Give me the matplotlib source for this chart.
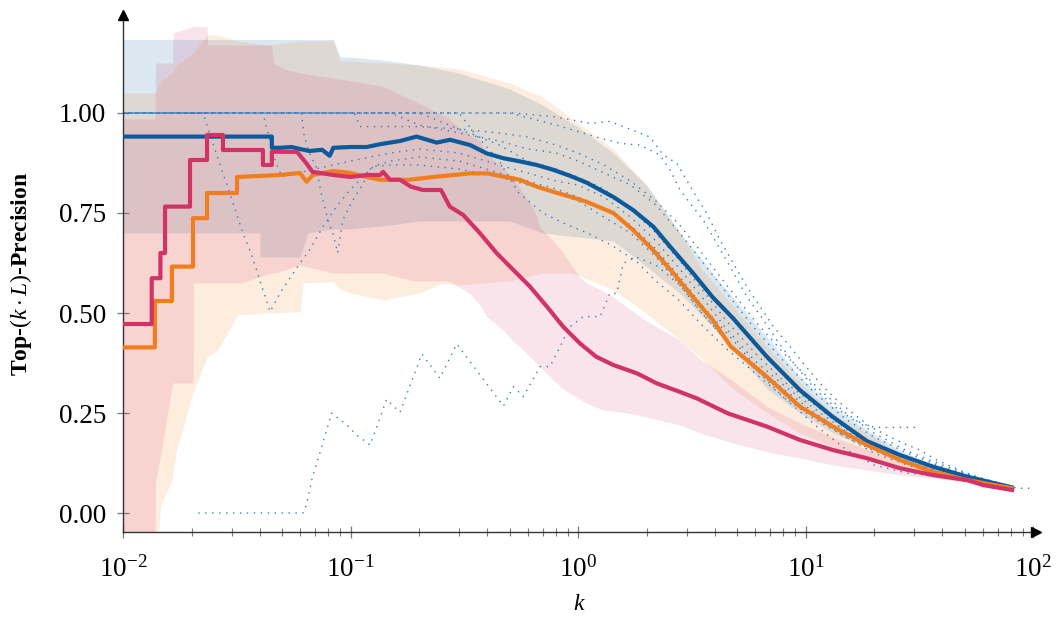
import numpy as np
import matplotlib
matplotlib.use("Agg")
import matplotlib.pyplot as plt
from matplotlib.ticker import LogLocator, NullFormatter, FixedLocator

# ---------------- mean curves ----------------
k_blue = [0.01, 0.0451, 0.0451, 0.049, 0.055, 0.060, 0.066, 0.075, 0.081, 0.084, 0.10, 0.118,
          0.135, 0.165, 0.195, 0.239, 0.274, 0.335, 0.397, 0.469, 0.556, 0.658, 0.778, 0.922,
          1.09, 1.43, 1.75, 2.14, 2.62, 3.2, 3.9, 4.8, 6.78, 9.46, 13.2, 18.6, 26.0, 36.3, 51.3, 80.9]
y_blue = [0.941, 0.941, 0.913, 0.913, 0.915, 0.910, 0.905, 0.908, 0.893, 0.913, 0.915, 0.915,
          0.922, 0.930, 0.941, 0.926, 0.933, 0.920, 0.899, 0.887, 0.879, 0.870, 0.858, 0.843,
          0.826, 0.790, 0.757, 0.716, 0.657, 0.600, 0.540, 0.487, 0.390, 0.307, 0.240, 0.180,
          0.145, 0.116, 0.091, 0.064]

k_orange = [0.01, 0.0138, 0.0138, 0.0164, 0.0164, 0.0203, 0.0203, 0.0234, 0.0234, 0.0317, 0.0317,
            0.049, 0.060, 0.0641, 0.0684, 0.084, 0.10, 0.118, 0.135, 0.18, 0.24, 0.335, 0.40,
            0.47, 0.556, 0.658, 0.778, 0.922, 1.09, 1.43, 1.75, 2.14, 2.62, 3.2, 3.9, 4.7,
            6.78, 9.46, 13.2, 18.6, 26.0, 36.3, 51.3, 80.9]
y_orange = [0.414, 0.414, 0.530, 0.530, 0.616, 0.616, 0.737, 0.737, 0.800, 0.800, 0.840,
            0.845, 0.850, 0.828, 0.845, 0.855, 0.850, 0.840, 0.833, 0.833, 0.841, 0.849, 0.849,
            0.841, 0.833, 0.816, 0.803, 0.791, 0.778, 0.750, 0.707, 0.657, 0.600, 0.540, 0.483,
            0.416, 0.340, 0.266, 0.216, 0.170, 0.1325, 0.103, 0.0825, 0.062]

k_crimson = [0.01, 0.01337, 0.01337, 0.0146, 0.0146, 0.0153, 0.0153, 0.0197, 0.0197, 0.0234,
             0.0234, 0.0275, 0.0275, 0.0412, 0.0412, 0.0451, 0.0451, 0.0582, 0.064, 0.068,
             0.084, 0.10, 0.118, 0.135, 0.139, 0.149, 0.165, 0.184, 0.208, 0.25, 0.273, 0.313,
             0.37, 0.44, 0.52, 0.615, 0.73, 0.86, 1.02, 1.2, 1.43, 1.82, 2.22, 2.8, 3.33, 4.56,
             6.78, 9.46, 13.2, 18.6, 26.0, 36.3, 51.3, 60.3, 80.9]
y_crimson = [0.4725, 0.4725, 0.587, 0.587, 0.650, 0.650, 0.766, 0.766, 0.8825, 0.8825,
             0.945, 0.945, 0.9075, 0.9075, 0.870, 0.870, 0.903, 0.903, 0.874, 0.853,
             0.845, 0.840, 0.845, 0.845, 0.853, 0.833, 0.833, 0.816, 0.8075, 0.8075, 0.766,
             0.745, 0.700, 0.649, 0.6075, 0.566, 0.516, 0.466, 0.424, 0.391, 0.370, 0.349,
             0.324, 0.303, 0.2865, 0.249, 0.216, 0.1825, 0.1575, 0.137, 0.112, 0.095, 0.0825,
             0.070, 0.0575]

# ---------------- spread bands ----------------
k_band_blue = [0.01, 0.0399, 0.04, 0.045, 0.06, 0.065, 0.084, 0.09, 0.10, 0.15, 0.2, 0.3, 0.5,
               0.7, 1.0, 1.43, 2.0, 2.81, 3.9, 5.5, 6.78, 9.46, 13.2, 18.6, 26.0, 36.3, 51.3, 80.9]
y_band_blue_hi = [1.184, 1.184, 1.184, 1.184, 1.184, 1.184, 1.184, 1.14, 1.14, 1.13, 1.12, 1.10,
                  1.06, 1.02, 0.965, 0.90, 0.82, 0.70, 0.60, 0.50, 0.44, 0.34, 0.266, 0.2075,
                  0.1575, 0.12, 0.095, 0.07]
y_band_blue_lo = [0.70, 0.70, 0.64, 0.64, 0.64, 0.70, 0.71, 0.71, 0.71, 0.72, 0.73, 0.73, 0.73,
                  0.70, 0.69, 0.68, 0.616, 0.549, 0.466, 0.37, 0.31, 0.25, 0.20, 0.166, 0.1325,
                  0.1075, 0.085, 0.062]

k_band_orange = [0.01, 0.0138, 0.0146, 0.0164, 0.0172, 0.0203, 0.0234, 0.026, 0.032, 0.043, 0.060,
                 0.062, 0.084, 0.09, 0.10, 0.14, 0.2, 0.25, 0.3, 0.5, 0.7, 0.92, 1.0, 1.43, 2.0,
                 2.81, 3.44, 4.8, 6.78, 9.46, 13.2, 18.6, 26.0, 36.3, 51.3, 80.9]
y_band_orange_hi = [1.05, 1.05, 1.08, 1.10, 1.12, 1.15, 1.195, 1.195, 1.18, 1.17, 1.18, 1.18,
                    1.18, 1.13, 1.13, 1.125, 1.12, 1.115, 1.11, 1.075, 1.04, 0.99, 0.975, 0.91,
                    0.82, 0.70, 0.616, 0.516, 0.416, 0.325, 0.25, 0.20, 0.15, 0.116, 0.09, 0.065]
y_band_orange_lo = [-0.2, -0.2, 0.016, 0.0825, 0.1575, 0.30, 0.39, 0.4075, 0.495, 0.50, 0.503,
                    0.575, 0.578, 0.56, 0.55, 0.5325, 0.55, 0.574, 0.57, 0.58, 0.60, 0.60, 0.595,
                    0.5575, 0.499, 0.4325, 0.39, 0.31, 0.25, 0.20, 0.165, 0.135, 0.11, 0.09,
                    0.075, 0.058]

k_band_crimson = [0.01, 0.0138, 0.0139, 0.0148, 0.0165, 0.0166, 0.0203, 0.0204, 0.0234, 0.0236,
                  0.033, 0.045, 0.046, 0.053, 0.06, 0.084, 0.14, 0.19, 0.265, 0.283, 0.334,
                  0.371, 0.397, 0.469, 0.518, 0.556, 0.615, 0.658, 0.68, 0.778, 0.86, 0.922,
                  1.02, 1.09, 1.29, 1.43, 1.69, 2.0, 2.8, 3.44, 4.8, 6.78, 9.46, 13.2, 18.6,
                  26.0, 36.3, 51.3, 80.9]
y_band_crimson_hi = [0.985, 0.985, 1.125, 1.125, 1.125, 1.20, 1.216, 1.216, 1.216, 1.17,
                     1.17, 1.17, 1.124, 1.1075, 1.10, 1.0875, 1.066, 1.03, 0.99, 0.975, 0.945,
                     0.93, 0.90, 0.86, 0.84, 0.81, 0.775, 0.74, 0.716, 0.68, 0.65, 0.625,
                     0.59, 0.575, 0.555, 0.54, 0.51, 0.48, 0.4325, 0.385, 0.33, 0.266, 0.225,
                     0.19, 0.16, 0.13, 0.11, 0.09, 0.065]
y_band_crimson_lo = [-0.2, -0.2, 0.08, 0.16, 0.325, 0.325, 0.325, 0.575, 0.575, 0.575,
                     0.575, 0.60, 0.60, 0.61, 0.62, 0.60, 0.60, 0.58, 0.58, 0.574, 0.549,
                     0.52, 0.491, 0.4575, 0.43, 0.416, 0.39, 0.374, 0.365, 0.3325, 0.31, 0.299,
                     0.285, 0.274, 0.2575, 0.255, 0.249, 0.24, 0.22, 0.20, 0.175, 0.153, 0.1375,
                     0.12, 0.1075, 0.095, 0.087, 0.078, 0.058]

# ---------------- individual runs (dotted) ----------------
run_a_k = [0.01, 0.3, 0.52, 0.8, 1.13, 1.38, 1.87, 2.07, 2.37, 2.72, 3.0, 3.32, 3.68, 4.21,
           4.82, 5.52, 6.31, 7.23, 8.55, 9.78, 11.6, 13.7, 16.2, 19.2, 26.9, 31.8, 37.7,
           49.4, 62.6, 84.9, 100.0]
run_a_y = [1.0, 1.0, 1.0, 0.99, 0.974, 0.979, 0.95, 0.94, 0.895, 0.874, 0.8325, 0.79, 0.749,
           0.6825, 0.624, 0.566, 0.516, 0.466, 0.416, 0.374, 0.324, 0.2825, 0.249, 0.216,
           0.174, 0.1575, 0.1325, 0.103, 0.0825, 0.062, 0.062]

run_b_k = [0.01, 0.5, 0.8, 1.2, 1.53, 1.87, 2.29, 2.54, 2.81, 3.11, 3.55, 4.07, 4.66, 5.52,
           6.53, 7.47, 9.0, 11.0, 13.5, 16.0, 19.2, 21.3, 31.8]
run_b_y = [1.0, 1.0, 0.97, 0.94, 0.924, 0.92, 0.895, 0.8575, 0.8075, 0.774, 0.7325, 0.674,
           0.616, 0.541, 0.4825, 0.4325, 0.37, 0.31, 0.265, 0.235, 0.216, 0.214, 0.214]

run_c_k = [0.0207, 0.0618, 0.064, 0.068, 0.0733, 0.0786, 0.0826, 0.0964, 0.1065, 0.122,
           0.144, 0.165, 0.206, 0.247, 0.293, 0.47, 0.52, 0.575, 0.681, 0.753, 0.834, 0.922,
           1.055, 1.25, 1.38, 1.48, 1.58, 1.8, 2.2, 2.8, 3.5, 4.5, 6.0, 8.0, 11.0, 15.0,
           20.0, 28.0, 40.0, 55.0, 82.0]
run_c_y = [0.0, 0.0, 0.02, 0.09, 0.15, 0.2075, 0.25, 0.22, 0.195, 0.17, 0.284, 0.252, 0.3975,
           0.337, 0.4225, 0.2675, 0.316, 0.291, 0.366, 0.366, 0.416, 0.466, 0.491, 0.491,
           0.549, 0.549, 0.624, 0.64, 0.62, 0.57, 0.50, 0.43, 0.36, 0.30, 0.24, 0.19, 0.155,
           0.125, 0.098, 0.08, 0.06]

run_d_k = [0.01, 0.0225, 0.024, 0.0257, 0.0275, 0.0295, 0.0315, 0.0337, 0.0361, 0.038,
           0.0443, 0.049, 0.060, 0.0661, 0.0757, 0.0867, 0.0994, 0.1138, 0.126, 0.15, 0.2,
           0.3, 0.45, 0.6, 0.8, 1.0, 1.3, 1.7, 2.2, 2.8, 3.5, 4.5, 6.0, 8.0, 11.0, 15.0,
           20.0, 28.0, 40.0, 55.0, 82.0]
run_d_y = [1.0, 1.0, 0.949, 0.899, 0.849, 0.799, 0.749, 0.699, 0.6575, 0.62, 0.503, 0.55,
           0.625, 0.6575, 0.716, 0.766, 0.8075, 0.841, 0.866, 0.88, 0.89, 0.88, 0.85, 0.83,
           0.81, 0.79, 0.76, 0.72, 0.66, 0.59, 0.52, 0.45, 0.37, 0.31, 0.25, 0.20, 0.16,
           0.13, 0.10, 0.08, 0.062]

run_e_k = [0.01, 0.0412, 0.043, 0.045, 0.047, 0.05, 0.07, 0.1, 0.15, 0.2, 0.3, 0.45, 0.6,
           0.8, 1.0, 1.3, 1.7, 2.2, 2.8, 3.5, 4.5, 6.0, 8.0, 11.0, 15.0, 20.0, 28.0, 40.0,
           55.0, 82.0]
run_e_y = [1.0, 1.0, 0.957, 0.916, 0.874, 0.841, 0.86, 0.88, 0.90, 0.91, 0.90, 0.87, 0.85,
           0.83, 0.82, 0.79, 0.74, 0.68, 0.61, 0.54, 0.46, 0.38, 0.32, 0.26, 0.205, 0.165,
           0.13, 0.10, 0.082, 0.062]

run_f_k = [0.01, 0.0608, 0.0627, 0.0661, 0.0706, 0.0743, 0.0769, 0.0795, 0.0836, 0.0878,
           0.0924, 0.1025, 0.1138, 0.1238, 0.15, 0.2, 0.3, 0.45, 0.6, 0.8, 1.0, 1.3, 1.7,
           2.2, 2.8, 3.5, 4.5, 6.0, 8.0, 11.0, 15.0, 20.0, 28.0, 40.0, 55.0, 82.0]
run_f_y = [1.0, 1.0, 0.94, 0.899, 0.866, 0.799, 0.766, 0.7325, 0.699, 0.65, 0.7325, 0.7825,
           0.824, 0.866, 0.87, 0.87, 0.86, 0.84, 0.82, 0.80, 0.78, 0.74, 0.70, 0.64, 0.57,
           0.50, 0.43, 0.36, 0.29, 0.235, 0.19, 0.15, 0.12, 0.095, 0.078, 0.06]

run_g_k = [0.01, 0.104, 0.11, 0.2, 0.3, 0.45, 0.6, 0.8, 1.0, 1.3, 1.7, 2.2, 2.8, 3.5, 4.5,
           6.0, 8.0, 11.0, 15.0, 20.0, 28.0, 40.0, 55.0, 82.0]
run_g_y = [1.0, 1.0, 0.966, 0.966, 0.96, 0.95, 0.94, 0.92, 0.90, 0.87, 0.83, 0.78, 0.72,
           0.65, 0.57, 0.48, 0.40, 0.32, 0.25, 0.20, 0.155, 0.12, 0.092, 0.066]

run_h_k = [0.01, 0.15, 0.2, 0.3, 0.45, 0.6, 0.8, 1.0, 1.3, 1.7, 2.2, 2.8, 3.5, 4.5, 6.0,
           8.0, 11.0, 15.0, 20.0, 28.0, 40.0, 55.0, 82.0]
run_h_y = [1.0, 1.0, 0.97, 0.95, 0.93, 0.91, 0.90, 0.88, 0.85, 0.82, 0.77, 0.70, 0.63, 0.55,
           0.46, 0.38, 0.30, 0.235, 0.19, 0.15, 0.115, 0.09, 0.065]

run_i_k = [0.01, 0.2, 0.3, 0.45, 0.6, 0.8, 1.0, 1.3, 1.7, 2.2, 2.8, 3.5, 4.5, 6.0, 8.0,
           11.0, 15.0, 20.0, 28.0, 40.0, 55.0, 82.0]
run_i_y = [1.0, 1.0, 0.96, 0.92, 0.88, 0.86, 0.84, 0.81, 0.76, 0.70, 0.63, 0.56, 0.48, 0.40,
           0.33, 0.27, 0.21, 0.17, 0.135, 0.105, 0.085, 0.064]

run_j_k = [0.01, 0.3, 0.35, 0.45, 0.55, 0.7, 0.9, 1.1, 1.4, 1.8, 2.2, 2.8, 3.5, 4.5, 6.0,
           8.0, 11.0, 15.0, 20.0, 28.0, 40.0, 55.0, 82.0]
run_j_y = [1.0, 1.0, 0.95, 0.88, 0.80, 0.75, 0.72, 0.70, 0.67, 0.63, 0.58, 0.53, 0.47, 0.41,
           0.35, 0.29, 0.22, 0.16, 0.12, 0.10, 0.09, 0.075, 0.058]

runs = [(run_a_k, run_a_y), (run_b_k, run_b_y), (run_c_k, run_c_y), (run_d_k, run_d_y),
        (run_e_k, run_e_y), (run_f_k, run_f_y), (run_g_k, run_g_y), (run_h_k, run_h_y),
        (run_i_k, run_i_y), (run_j_k, run_j_y)]

y_ticks = [0.0, 0.25, 0.5, 0.75, 1.0]
y_tick_labels = ["0.00", "0.25", "0.50", "0.75", "1.00"]

# ---------------- styling ----------------
C_BLUE = "#0a5a9c"
C_ORANGE = "#f07e1f"
C_CRIMSON = "#d23366"
C_RUN = "#2f7cc0"

plt.rcParams["font.family"] = ["Liberation Serif", "DejaVu Serif"]
plt.rcParams["mathtext.fontset"] = "custom"
plt.rcParams["mathtext.rm"] = "Liberation Serif"
plt.rcParams["mathtext.it"] = "Liberation Serif:italic"
plt.rcParams["mathtext.bf"] = "Liberation Serif:bold"

fig = plt.figure(figsize=(10.56, 6.19), dpi=100)
ax = fig.add_axes([0.1165, 0.1405, 0.8645, 0.8353])

ax.fill_between(k_band_blue, y_band_blue_lo, y_band_blue_hi, color="#005b9f", alpha=0.14,
                lw=0, zorder=1)
ax.fill_between(k_band_orange, y_band_orange_lo, y_band_orange_hi, color="#f28022", alpha=0.14,
                lw=0, zorder=1)
ax.fill_between(k_band_crimson, y_band_crimson_lo, y_band_crimson_hi, color="#d5326a",
                alpha=0.13, lw=0, zorder=1)

for i, (rk, ry) in enumerate(runs):
    ax.plot(rk, ry, color=C_RUN, lw=1.0, ls=(i * 1.3, (1, 4)), zorder=2)

ax.plot(k_blue, y_blue, color=C_BLUE, lw=3.0, zorder=4)
ax.plot(k_orange, y_orange, color=C_ORANGE, lw=3.0, zorder=5)
ax.plot(k_crimson, y_crimson, color=C_CRIMSON, lw=3.0, zorder=6)

ax.set_xscale("log")
ax.set_xlim(0.01, 103)
ax.set_ylim(-0.0475, 1.245)

ax.xaxis.set_major_locator(LogLocator(base=10, numticks=10))
ax.xaxis.set_minor_locator(LogLocator(base=10, subs=np.arange(2, 10), numticks=20))
ax.xaxis.set_minor_formatter(NullFormatter())
ax.yaxis.set_major_locator(FixedLocator(y_ticks))
ax.set_yticklabels(y_tick_labels)

for s in ("top", "right"):
    ax.spines[s].set_visible(False)
for s in ("left", "bottom"):
    ax.spines[s].set_color("#333333")
    ax.spines[s].set_linewidth(1.0)

ax.tick_params(axis="both", which="major", direction="inout", length=8.5, width=0.9,
               color="#777777", labelsize=19.5, labelcolor="black")
ax.tick_params(axis="x", which="minor", direction="inout", length=5.5, width=0.8,
               color="#777777")
ax.tick_params(axis="y", which="major", pad=8)
ax.tick_params(axis="x", which="major", pad=13)

# arrow heads at axis ends
ax.plot(1.0, 0.0, marker=">", color="black", markersize=7, transform=ax.transAxes,
        clip_on=False, zorder=10)
ax.plot(0.0, 1.0, marker="^", color="black", markersize=7, transform=ax.transAxes,
        clip_on=False, zorder=10)

ax.set_xlabel(r"$k$", fontsize=17, labelpad=8)
ax.set_ylabel(r"Top-$(k\cdot L)$-Precision", fontsize=17, fontweight="bold", labelpad=18)

fig.savefig("out.png", dpi=100)
